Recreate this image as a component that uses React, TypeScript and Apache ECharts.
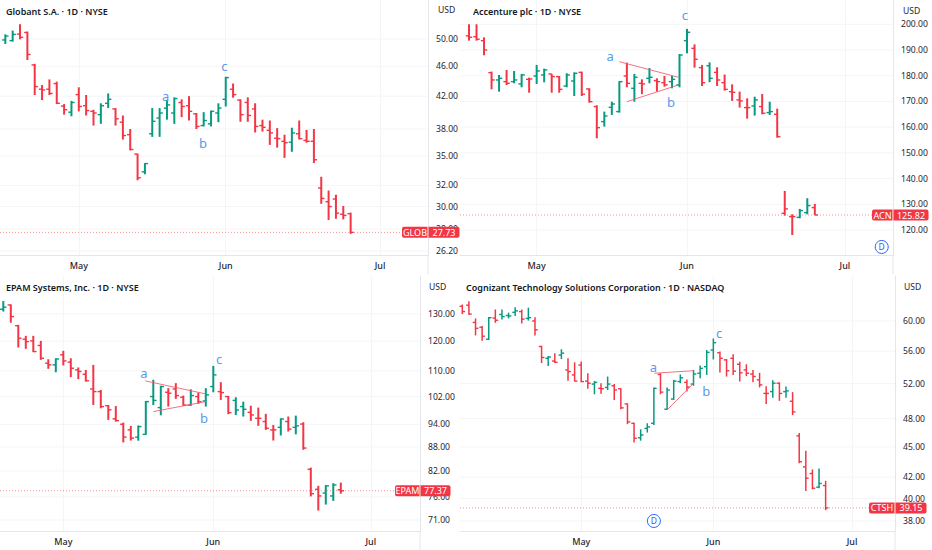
import React, { useEffect, useRef } from "react";
import * as echarts from "echarts";

// [open, high, low, close]
const globBars = [
  [49.85,50.72,49.25,50.45],[49.75,51.3,49.6,50.7],[50.75,52.3,49.95,50.25],[51.0,51.15,46.9,47.7],[46.2,46.35,42.15,43.25],
  [42.9,43.45,41.5,42.8],[42.9,44.2,42.15,42.35],[43.65,43.9,41.0,41.1],[40.75,41.0,39.7,40.3],[40.0,41.4,39.5,41.2],
  [42.2,43.15,40.1,40.7],[40.8,42.15,39.6,40.2],[40.1,40.3,38.4,39.9],[39.7,41.1,38.6,40.8],[41.1,42.35,40.5,41.6],
  [40.4,40.5,38.4,39.2],[38.8,39.6,36.8,37.25],[37.35,38.0,35.6,35.7],[35.2,35.25,32.5,32.75],[33.35,34.25,33.1,34.2],
  [37.45,40.5,37.1,38.9],[39.3,40.5,37.1,39.9],[40.5,41.5,39.1,40.9],[39.9,41.85,38.6,41.7],[41.2,41.6,39.4,40.7],
  [40.8,42.0,39.0,40.1],[39.8,39.9,38.0,38.3],[38.4,40.0,38.3,39.0],[38.6,40.2,38.3,40.1],[39.9,41.1,38.8,40.5],
  [41.6,44.55,40.7,44.45],[42.9,43.65,41.8,42.2],[41.5,41.6,38.85,39.7],[41.2,41.85,38.85,39.6],[40.4,41.1,37.6,38.3],
  [38.4,39.1,37.7,38.2],[37.85,39.0,36.2,37.55],[36.95,38.1,35.9,36.9],[36.6,37.35,34.8,36.45],[36.5,38.15,35.45,37.55],
  [37.45,39.0,36.8,36.9],[36.7,37.9,36.45,36.6],[36.6,38.0,34.25,34.6],[31.75,32.85,30.25,30.75],[30.45,31.5,28.8,30.0],
  [30.7,31.1,28.9,29.4],[29.3,30.05,28.85,29.2],[29.35,29.45,27.6,27.73],
];
const acnBars = [
  [195.5,200,193.65,194.95],[195.2,200,193.65,194.2],[193.65,194.95,187.95,190],[181.2,181.6,174.7,178.35],[178.35,180.3,173.8,179],
  [177.7,182.25,176.4,177.05],[177.7,181.85,177.05,178.35],[176.8,180.7,175.5,180.3],[178.6,179.25,173.4,178.75],[179.9,184.2,176.8,181.85],
  [180.3,182.75,177.45,182.25],[180.7,180.7,173.4,179.65],[179.65,179.9,173.4,174.7],[176,180.95,175.5,180.3],[177.95,181.3,172.1,180.95],
  [181.3,181.6,172.1,172.8],[174.85,175.1,169.55,169.9],[168,168.5,155.65,159.8],[162.15,166.05,160.2,164.35],[167.7,169.9,164.75,169],
  [166.05,177.95,165.65,177.7],[179.9,185.1,175.5,177.05],[175.1,180.7,169.9,179.4],[177.05,178.6,172.8,176.8],[179,183,177.05,179.4],
  [178.1,179,173.8,177.7],[177.3,179.9,175.75,176.4],[177.7,179.9,175.1,178.6],[176.4,188.45,175.5,188.05],[193.65,198.2,188.7,196.9],
  [190.65,192.2,183.15,186.4],[183.15,184.2,176,177.3],[183.9,185.2,177.45,179],[181.3,183.3,176,178.35],[177.3,180.45,174.2,174.7],
  [173.8,176.65,170.2,173.55],[170.6,173.8,167.6,170.2],[167.6,171.2,163.3,167.6],[168.25,171.85,164.5,170.6],[168,172.9,165,165.4],
  [165.65,169.9,164.75,166.05],[165,167.2,155.9,156.3],[126.5,135.2,125.6,128.2],[125.2,126.1,118.05,125.2],[124.9,128.2,124.55,127.55],
  [126.75,132.35,126.1,129.5],[128.7,130.1,125.82,125.82],
];
const epamBars = [
  [131.8,135,130.9,132.6],[133.45,133.7,126.7,129],[125.6,125.87,117.8,121.05],[120.7,121.9,117.35,119.86],[120.1,121.9,116.2,116.4],
  [118.5,120.1,113.6,114.13],[112.5,113.8,110.65,111.95],[111.95,114.13,109.55,113.9],[115.3,116.65,111.75,113.25],[112.85,114.13,108,110.85],
  [110.3,111.1,107.35,109.8],[108.9,110.3,106.6,106.85],[104.3,111.95,99.5,103.5],[103.5,104,98.55,99.05],[99.3,99.5,95.25,98.1],
  [95.55,99.2,94.8,95.05],[94.05,94.5,89.15,90.55],[92.5,93.6,89.65,90.3],[90.55,93.7,89.6,93.4],[91.3,100.7,91.15,100.5],
  [102,107.15,99.5,100.85],[98.75,105.3,96.55,105.05],[103.3,104.55,99.05,103],[104.3,106.1,101.3,102.3],[101.8,102.3,99.25,99.5],
  [99.5,104.2,99.25,102.3],[102,103.2,99.85,100.5],[100.7,104.55,99.05,102.5],[105.05,111.6,103.3,108.7],[103.5,106.4,101,103.2],
  [102,102.2,96.85,97.3],[100.85,101.8,96.6,98.05],[99.05,100.5,96.2,98.25],[97.4,99.3,95,96.65],[95.7,98.75,93.6,95.7],
  [94.8,96.95,92.5,92.95],[92.5,93.85,89.65,92.5],[93.2,95.7,91,95.5],[94.8,96.2,92.05,92.7],[93.2,96.45,91.3,93.6],
  [94.1,94.6,87.25,87.7],[82.4,82.8,76.1,76.7],[77.7,78.5,73,76.2],[76.85,78.65,74.3,78.5],[76.2,79.1,75.1,78.7],
  [77.6,79.25,76.7,77.37],
];
const ctshBars = [
  [62.05,62.3,60.95,61.3],[62.2,62.75,60.85,60.95],[59.8,60.35,58.05,59],[59.15,59.3,57.35,57.95],[57.55,60.55,57.45,60.45],
  [60.4,61.6,59.75,60.1],[60.9,61.6,60.2,60.6],[60.75,61.15,60.35,60.7],[61.2,61.9,60.7,61.4],[61.3,61.6,59.65,60.25],
  [60.35,61.85,60.05,60.45],[60,60.5,58.05,58.8],[56.6,56.7,54.5,55.2],[55.1,55.4,54.15,55.25],[54.75,55.75,54.5,54.6],
  [55.5,56.25,55,55.75],[53.65,55.1,52.35,53.45],[53.04,54.6,52.25,52.3],[54.25,54.7,52.15,52.25],[52.3,53.25,51.4,52.05],
  [51.95,52.3,50.75,52.15],[51.45,52.05,50.8,51.4],[51.55,52.85,51.25,51.95],[51.75,51.95,50.1,51.25],[51.4,51.45,49.05,49.2],
  [49.65,49.7,47.4,47.65],[47.5,47.55,45.45,45.9],[45.95,46.85,45.65,46.25],[46.95,47.5,46.5,47.1],[47.5,51.55,47.3,51.45],
  [53.1,53.25,50.75,51],[49.05,51.55,48.95,51.25],[50.2,52.45,50.1,52.3],[52.25,53.1,52.05,52.7],[52.15,52.5,51.06,51.6],
  [51.95,53.65,51.75,53.15],[53.25,54.2,52.65,53.85],[54.05,56.15,53.04,55.85],[56.15,57.65,54.95,57.1],[55.8,55.95,53.35,55.1],
  [54.9,55,52.85,53.55],[55.1,55.6,53.04,53.5],[54.35,54.65,52.25,53.3],[53.65,54.35,52.9,53.25],[53.15,53.65,52.15,52.85],
  [52.45,53.3,51.55,51.85],[50.85,51.7,49.65,50.85],[51.06,52.4,50.35,52.05],[52.05,52.15,50,50.85],[51.06,51.65,50.35,51.15],
  [49.95,51,48.4,48.75],[46.15,46.45,43.35,43.5],[43,44.6,40.7,41.9],[42.35,42.75,40.85,40.95],[41.05,42.85,40.95,41.4],
  [41.2,41.65,38.95,39.15],
];

const prevCloses = [49.0, 200.5, 131.0, 63.0];
const titles = [
  "Globant S.A. · 1D · NYSE",
  "Accenture plc · 1D · NYSE",
  "EPAM Systems, Inc. · 1D · NYSE",
  "Cognizant Technology Solutions Corporation · 1D · NASDAQ",
];
const tickers = ["GLOB", "ACN", "EPAM", "CTSH"];
const lastPrices = [27.73, 125.82, 77.37, 39.15];
const currency = "USD";
const months = ["May", "Jun", "Jul"];
const monthBars = [
  [10, 30, 51],
  [9, 29, 50],
  [8, 28, 49],
  [18, 38, 59],
];
const priceTicks = [
  [50, 46, 42, 38, 35, 32, 30, 28, 26.2],
  [200, 190, 180, 170, 160, 150, 140, 130, 120],
  [130, 120, 110, 102, 94, 88, 82, 76, 71],
  [60, 56, 52, 48, 45, 42, 40, 38],
];
// wave labels: [label, bar position, price]
const waveLabels: [string, number, number][][] = [
  [["a", 21.83, 42.0], ["b", 26.9, 36.4], ["c", 29.83, 46.0]],
  [["a", 18.76, 187.67], ["b", 26.87, 169.8], ["c", 28.73, 203.8]],
  [["a", 18.76, 109.2], ["b", 26.76, 95.7], ["c", 28.76, 113.8]],
  [["a", 28.92, 54.06], ["b", 36.94, 51.14], ["c", 38.86, 58.42]],
];
// trend lines: [bar1, price1, bar2, price2]
const trendLines = [
  [],
  [[20.0, 185.45, 27.84, 179.4], [20.99, 169.9, 27.84, 176.4]],
  [[18.93, 106.8, 26.99, 102.8], [20.0, 97.6, 26.99, 100.5]],
  [[29.07, 53.25, 35.0, 53.56], [31.0, 48.97, 35.0, 52.04]],
];
// dividend markers: [bar position, price]
const dividendMarks = [[], [[54.9, 113.4]], [], [[29.0, 38.0]]];
const allBars = [globBars, acnBars, epamBars, ctshBars];

const UP = "#089981";
const DOWN = "#f23645";
const GRID = "#f4f5f7";
const BORDER = "#e4e6ec";
const TEXT = "#1f2430";
const WAVE = "#5b9bea";
const FONT = '"Noto Sans", sans-serif';

const layouts = [
  { left: 0, axisX: 428, top: 0, bottom: 255, panelBottom: 274, xMin: -0.725, xMax: 57.53, yMin: 25.88, yMax: 56.31, yType: "log", usdX: 438, titleX: 6, titleY: 6, usdY: 10, tagW: 26, valW: 31, lw: 2, tick: 3.2 },
  { left: 460, axisX: 893, top: 0, bottom: 255, panelBottom: 274, xMin: -1.197, xMax: 56.4, yMin: 110.27, yMax: 209.45, yType: "value", usdX: 903, titleX: 473, titleY: 6, usdY: 11, tagW: 21, valW: 35, lw: 2, tick: 3.2 },
  { left: 0, axisX: 420, top: 276, bottom: 531, panelBottom: 550, xMin: -0.44, xMax: 55.56, yMin: 68.75, yMax: 145.3, yType: "log", usdX: 429, titleX: 6, titleY: 282, usdY: 287, tagW: 25, valW: 30, lw: 2, tick: 3.2 },
  { left: 460, axisX: 895, top: 276, bottom: 531, panelBottom: 550, xMin: -0.35, xMax: 65.5, yMin: 37.14, yMax: 66.49, yType: "log", usdX: 904, titleX: 466, titleY: 282, usdY: 287, tagW: 26, valW: 31, lw: 1.5, tick: 2.8 },
];

function buildOption() {
  const grid: any[] = [];
  const xAxis: any[] = [];
  const yAxis: any[] = [];
  const series: any[] = [];
  const title: any[] = [];
  const graphic: any[] = [];

  allBars.forEach((bars, p) => {
    const L = layouts[p];
    const base = { xAxisIndex: p, yAxisIndex: p, coordinateSystem: "cartesian2d", silent: true };
    grid.push({ left: L.left, top: L.top, width: L.axisX - L.left, height: L.bottom - L.top, containLabel: false });
    xAxis.push({
      gridIndex: p,
      type: "value",
      min: L.xMin,
      max: L.xMax,
      axisLine: { onZero: false, lineStyle: { color: BORDER, width: 1 } },
      axisTick: { show: false, customValues: monthBars[p] },
      axisLabel: {
        customValues: monthBars[p],
        formatter: (v: number) => months[monthBars[p].indexOf(v)] ?? "",
        color: TEXT,
        fontFamily: FONT,
        fontSize: 9,
        fontWeight: 500,
        margin: 6,
      },
      splitLine: { show: true, lineStyle: { color: GRID, width: 1 } },
    });
    yAxis.push({
      gridIndex: p,
      type: L.yType,
      logBase: 10,
      position: "right",
      min: L.yMin,
      max: L.yMax,
      axisLine: { show: true, onZero: false, lineStyle: { color: BORDER, width: 1 } },
      axisTick: { show: false },
      axisLabel: { show: false },
      splitLine: { show: false },
    });

    // horizontal grid lines and price labels
    series.push({
      ...base,
      type: "custom",
      name: tickers[p] + " scale",
      z: 1,
      data: priceTicks[p].map((v) => [L.xMax, v]),
      encode: { x: 0, y: 1 },
      renderItem: (_: any, api: any) => {
        const v = api.value(1);
        const [x, y] = api.coord([L.xMax, v]);
        return {
          type: "group",
          children: [
            { type: "line", shape: { x1: L.left, y1: y, x2: x, y2: y }, style: { stroke: GRID, lineWidth: 1 } },
            {
              type: "text",
              x: x + 8,
              y,
              style: { text: v.toFixed(2), fill: TEXT, font: `8.6px ${FONT}`, textAlign: "left", textVerticalAlign: "middle" },
            },
          ],
        };
      },
    });

    // OHLC bars
    series.push({
      ...base,
      type: "custom",
      name: tickers[p],
      z: 3,
      data: bars.map((b, i) => {
        const prev = i === 0 ? prevCloses[p] : bars[i - 1][3];
        return [i, b[0], b[1], b[2], b[3], b[3] >= prev ? 1 : 0];
      }),
      encode: { x: 0, y: [1, 2, 3, 4] },
      renderItem: (_: any, api: any) => {
        const i = api.value(0);
        const [x, yO] = api.coord([i, api.value(1)]);
        const yH = api.coord([i, api.value(2)])[1];
        const yL = api.coord([i, api.value(3)])[1];
        const yC = api.coord([i, api.value(4)])[1];
        const style = { stroke: api.value(5) ? UP : DOWN, lineWidth: L.lw };
        return {
          type: "group",
          children: [
            { type: "line", shape: { x1: x, y1: yH, x2: x, y2: yL }, style },
            { type: "line", shape: { x1: x - L.tick, y1: yO, x2: x, y2: yO }, style: { ...style, lineWidth: 1.4 } },
            { type: "line", shape: { x1: x, y1: yC, x2: x + L.tick, y2: yC }, style: { ...style, lineWidth: 1.4 } },
          ],
        };
      },
    });

    // trend lines
    if (trendLines[p].length) {
      series.push({
        ...base,
        type: "custom",
        name: tickers[p] + " trend",
        z: 4,
        data: trendLines[p],
        encode: { x: [0, 2], y: [1, 3] },
        renderItem: (_: any, api: any) => {
          const a = api.coord([api.value(0), api.value(1)]);
          const b = api.coord([api.value(2), api.value(3)]);
          return {
            type: "line",
            shape: { x1: a[0], y1: a[1], x2: b[0], y2: b[1] },
            style: { stroke: "#ee5a6c", lineWidth: 1, opacity: 0.85 },
          };
        },
      });
    }

    // wave labels a, b, c
    series.push({
      ...base,
      type: "custom",
      name: tickers[p] + " waves",
      z: 5,
      data: waveLabels[p].map((w) => [w[1], w[2]]),
      encode: { x: 0, y: 1 },
      renderItem: (params: any, api: any) => {
        const [x, y] = api.coord([api.value(0), api.value(1)]);
        return {
          type: "text",
          x,
          y,
          style: {
            text: waveLabels[p][params.dataIndex][0],
            fill: WAVE,
            font: `13px ${FONT}`,
            textAlign: "center",
            textVerticalAlign: "middle",
          },
        };
      },
    });

    // dividend markers
    if (dividendMarks[p].length) {
      series.push({
        ...base,
        type: "custom",
        name: tickers[p] + " dividends",
        z: 5,
        data: dividendMarks[p],
        encode: { x: 0, y: 1 },
        renderItem: (_: any, api: any) => {
          const [x, y] = api.coord([api.value(0), api.value(1)]);
          return {
            type: "group",
            children: [
              { type: "circle", shape: { cx: x, cy: y, r: 6.5 }, style: { fill: "#fff", stroke: "#2962ff", lineWidth: 1 } },
              {
                type: "text",
                x,
                y,
                style: { text: "D", fill: "#2962ff", font: `8.5px ${FONT}`, textAlign: "center", textVerticalAlign: "middle" },
              },
            ],
          };
        },
      });
    }

    // last price line and tag
    series.push({
      ...base,
      type: "custom",
      name: tickers[p] + " last",
      z: 6,
      data: [[L.xMax, lastPrices[p]]],
      encode: { x: 0, y: 1 },
      renderItem: (_: any, api: any) => {
        const v = api.value(1);
        const [x, y] = api.coord([L.xMax, v]);
        const h = 11;
        const textStyle = { fill: "#fff", font: `9px ${FONT}`, textAlign: "center", textVerticalAlign: "middle" };
        return {
          type: "group",
          children: [
            { type: "line", shape: { x1: L.left, y1: y, x2: x - L.tagW, y2: y }, style: { stroke: DOWN, lineWidth: 0.8, lineDash: [1, 2], opacity: 0.7 } },
            { type: "rect", shape: { x: x - L.tagW, y: y - h / 2, width: L.tagW - 0.5, height: h, r: [2, 0, 0, 2] }, style: { fill: DOWN } },
            { type: "rect", shape: { x: x + 0.5, y: y - h / 2, width: L.valW, height: h, r: [0, 2, 2, 0] }, style: { fill: DOWN } },
            { type: "text", x: x - L.tagW / 2, y, style: { ...textStyle, text: tickers[p] } },
            { type: "text", x: x + 0.5 + L.valW / 2, y, style: { ...textStyle, text: v.toFixed(2) } },
          ],
        };
      },
    });

    title.push({
      text: titles[p],
      left: L.titleX,
      top: L.titleY,
      padding: 0,
      textStyle: { color: "#131722", fontFamily: FONT, fontSize: 9, fontWeight: 600, lineHeight: 11 },
    });
    graphic.push(
      {
        type: "text",
        x: L.usdX,
        y: L.usdY,
        style: { text: currency, fill: TEXT, font: `8.6px ${FONT}`, textAlign: "left", textVerticalAlign: "middle" },
      },
      {
        type: "line",
        shape: { x1: L.axisX, y1: L.bottom, x2: L.axisX, y2: L.panelBottom },
        style: { stroke: BORDER, lineWidth: 1 },
      }
    );
  });

  return { animation: false, backgroundColor: "#ffffff", grid, xAxis, yAxis, series, title, graphic };
}

export default function App() {
  const ref = useRef<HTMLDivElement>(null);
  useEffect(() => {
    document.body.style.margin = "0";
    const chart = echarts.init(ref.current!, undefined, { renderer: "svg" });
    chart.setOption(buildOption() as any);
    return () => chart.dispose();
  }, []);
  return <div ref={ref} style={{ width: 932, height: 550 }} />;
}
